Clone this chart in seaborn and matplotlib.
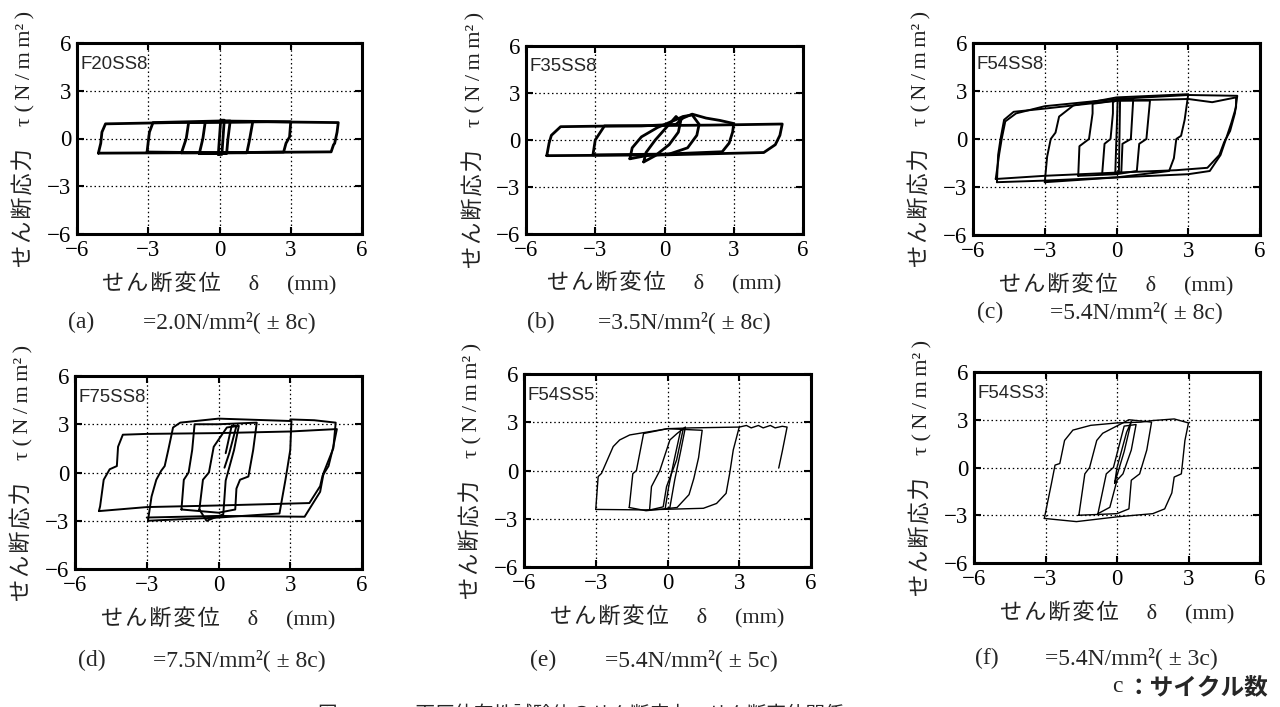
import pandas as pd
import matplotlib
matplotlib.use("Agg")
import matplotlib.pyplot as plt
import seaborn as sns

# specimen names and caption values
names = ["F20SS8", "F35SS8", "F54SS8", "F75SS8", "F54SS5", "F54SS3"]
letters = ["(a)", "(b)", "(c)", "(d)", "(e)", "(f)"]
pressure = ["2.0", "3.5", "5.4", "7.5", "5.4", "5.4"]
cycles = [8, 8, 8, 8, 5, 3]
ticks = [-6, -3, 0, 3, 6]

# hysteresis loops (displacement mm, stress N/mm2)
a_x = [[-5.1, -2.0, 2.0, 4.7, 4.8, 4.85, 4.95, 5.0, 2.0, -2.0, -4.8, -4.95, -5.0, -5.1],
       [-3.05, 0.0, 2.7, 2.8, 2.95, 3.0, 0.0, -2.8, -2.95, -3.0, -3.05],
       [-1.6, 1.15, 1.25, 1.4, -1.3, -1.4, -1.6],
       [-0.85, 0.3, 0.35, 0.45, -0.6, -0.7, -0.85],
       [-0.05, 0.1, 0.2, 0.05, -0.05]]
a_y = [[-0.92, -0.9, -0.87, -0.84, -0.4, -0.3, 0.4, 1.0, 1.05, 1.0, 0.92, 0.4, -0.3, -0.92],
       [-0.85, -0.9, -0.85, -0.3, 0.1, 1.05, 1.1, 1.0, 0.4, -0.2, -0.85],
       [-0.9, -0.9, -0.2, 1.05, 1.0, 0.0, -0.9],
       [-0.95, -0.95, -0.1, 1.1, 1.05, 0.0, -0.95],
       [-1.0, -1.0, 1.15, 1.15, -1.0]]

b_x = [[-5.1, 0.0, 4.3, 4.8, 5.0, 5.1, 2.0, -2.0, -4.5, -4.9, -5.0, -5.1],
       [-3.1, 0.0, 2.5, 2.8, 2.95, 3.0, 2.4, 1.8, 1.2, 0.8, 0.5, -1.0, -2.6, -3.0, -3.1],
       [-1.5, -0.8, 0.2, 1.0, 1.4, 1.5, 1.2, 0.8, 0.5, -0.3, -1.0, -1.4, -1.5],
       [-0.9, -0.4, 0.2, 0.6, 0.7, 0.5, 0.2, -0.4, -0.8, -0.9]]
b_y = [[-1.0, -0.95, -0.8, -0.3, 0.3, 1.02, 0.95, 0.9, 0.85, 0.3, -0.2, -1.0],
       [-0.95, -0.9, -0.75, -0.2, 0.5, 1.05, 1.25, 1.4, 1.65, 1.4, 1.0, 0.9, 0.9, 0.0, -0.95],
       [-1.2, -1.0, -0.9, -0.5, 0.3, 1.0, 1.6, 1.5, 1.3, 0.8, 0.2, -0.5, -1.2],
       [-1.4, -1.0, -0.3, 0.5, 1.2, 1.5, 1.0, 0.0, -0.8, -1.4]]

c_x = [[-5.05, -3.0, 0.0, 2.5, 3.8, 4.3, 4.5, 4.75, 4.95, 5.05, 3.0, 0.0, -3.0, -4.2, -4.65, -4.8, -4.9, -5.05],
       [-5.0, -3.0, 0.0, 3.0, 3.9, 4.35, 4.6, 4.8, 5.0, 5.0, 4.0, 3.0, 0.0, -3.0, -4.3, -4.7, -4.85, -4.95, -5.0],
       [-3.0, 0.0, 2.2, 2.4, 2.5, 2.7, 2.85, 3.0, 0.0, -1.8, -2.4, -2.55, -2.75, -2.9, -3.0],
       [-1.6, 0.0, 0.85, 0.95, 1.25, 1.4, 0.0, -1.0, -1.0, -1.15, -1.55, -1.6],
       [-0.6, 0.2, 0.25, 0.6, 0.7, 0.1, -0.15, -0.15, -0.25, -0.5, -0.6],
       [-0.05, 0.1, 0.15, 0.05, -0.05]]
c_y = [[-2.5, -2.3, -2.1, -1.95, -1.8, -1.0, -0.2, 0.5, 1.6, 2.7, 2.75, 2.5, 2.05, 1.6, 1.1, 0.0, -0.9, -2.5],
       [-2.7, -2.6, -2.4, -2.2, -2.0, -1.0, 0.1, 1.0, 2.0, 2.6, 2.3, 2.5, 2.4, 1.9, 1.7, 1.2, 0.0, -1.0, -2.7],
       [-2.7, -2.4, -2.0, -1.2, 0.0, 0.2, 1.2, 2.8, 2.6, 2.1, 1.4, 0.4, 0.0, -1.1, -2.7],
       [-2.3, -2.2, -2.0, -0.3, 0.0, 2.4, 2.4, 2.2, 1.6, 0.0, -0.45, -2.3],
       [-2.2, -2.1, -0.3, 0.0, 2.5, 2.5, 2.3, 1.6, 0.0, -0.3, -2.2],
       [-2.1, -2.1, 2.5, 2.5, -2.1]]

d_x = [[-5.0, -3.0, 0.0, 3.8, 4.25, 4.35, 4.6, 4.8, 4.95, 3.0, 0.0, -3.0, -4.0, -4.2, -4.25, -4.55, -4.8, -4.95, -5.0],
       [-2.95, 0.0, 2.55, 2.65, 2.8, 2.85, 3.0, 3.05, 0.0, -1.6, -1.9, -2.1, -2.25, -2.4, -2.6, -2.8, -2.95],
       [-3.0, 0.0, 3.6, 4.25, 4.4, 4.8, 4.9, 4.0, 3.0],
       [-1.55, 0.0, 0.7, 0.75, 0.9, 1.25, 1.45, 1.6, 0.0, -1.0, -1.1, -1.25, -1.45, -1.55],
       [-0.8, -0.5, 0.2, 0.3, 0.65, 0.85, 0.35, -0.2, -0.4, -0.65, -0.8],
       [0.25, 0.45, 0.75, 0.55, 0.3]]
d_y = [[-2.4, -2.15, -2.05, -1.9, -0.85, -0.2, 0.4, 1.6, 2.7, 2.55, 2.45, 2.4, 2.35, 1.6, 0.4, 0.2, -0.45, -2.1, -2.4],
       [-3.0, -2.8, -2.55, -1.7, -0.45, 0.0, 1.4, 3.2, 3.35, 3.1, 2.8, 1.4, 0.4, 0.1, -0.45, -1.5, -3.0],
       [-2.8, -2.7, -2.75, -1.2, 0.0, 1.5, 3.1, 3.25, 3.3],
       [-2.3, -2.5, -2.3, -1.0, -0.45, -0.25, 1.4, 3.1, 3.0, 3.0, 1.4, 0.0, -0.45, -2.3],
       [-2.3, -3.0, -2.6, -0.5, 1.4, 2.9, 2.8, 1.6, 0.0, -0.45, -2.3],
       [0.3, 1.2, 2.9, 2.9, 1.2]]

e_x = [[-3.0, -1.0, 1.5, 2.05, 2.45, 2.6, 2.75, 2.95, 3.0, 3.3, 3.5, 3.8, 4.0, 4.3, 4.5, 4.8, 5.0, 4.8, 4.65],
       [3.0, 1.0, 0.0, -1.58, -2.0, -2.27, -2.76, -2.9, -3.0],
       [-1.6, -0.9, 0.4, 0.9, 1.1, 1.3, 1.45, 0.0, -1.0, -1.3, -1.45, -1.6],
       [-0.75, -0.67, -0.32, 0.1, 0.4, 0.66, 0.38, -0.04, -0.18, -0.75],
       [-0.1, 0.05, 0.3, 0.55, 0.75, 0.55, 0.3, 0.1, -0.1]]
e_y = [[-2.42, -2.45, -2.35, -2.05, -1.42, -0.18, 1.28, 2.42, 2.7, 2.8, 2.65, 2.8, 2.65, 2.8, 2.65, 2.75, 2.7, 1.2, 0.15],
       [2.7, 2.65, 2.6, 2.21, 1.9, 1.49, -0.18, -0.38, -2.42],
       [-2.3, -2.5, -2.3, -1.5, -0.5, 0.8, 2.5, 2.6, 2.3, 0.0, -0.2, -2.3],
       [-2.46, -1.0, 0.0, 1.9, 2.3, 2.6, 0.65, -1.0, -2.26, -2.46],
       [-2.4, -1.0, 0.8, 2.5, 2.7, 1.2, -0.6, -2.3, -2.4]]

f_x = [[-3.05, -1.7, 0.0, 1.5, 2.0, 2.3, 2.4, 2.7, 2.85, 3.0, 2.4, 1.5, 1.0, 0.0, -1.1, -1.85, -2.2, -2.4, -2.6, -2.75, -2.9, -3.05],
       [-1.6, 0.0, 0.5, 0.6, 0.95, 1.25, 1.45, 0.5, -0.6, -0.85, -1.15, -1.35, -1.6],
       [-0.8, -0.3, 0.0, 0.25, 0.6, 0.8, 0.3, -0.15, -0.45, -0.8],
       [-0.1, 0.3, 0.6, 0.4, 0.0, -0.1]]
f_y = [[-3.2, -3.4, -3.1, -2.9, -2.6, -1.6, -0.6, -0.4, 1.7, 2.8, 3.05, 2.95, 2.85, 2.8, 2.65, 2.35, 1.7, 0.25, 0.15, -1.0, -2.1, -3.2],
       [-3.0, -2.9, -2.6, -0.8, -0.4, 1.1, 2.85, 3.0, 2.15, 1.7, 0.0, -0.4, -3.0],
       [-2.9, -2.5, -0.8, -0.4, 1.1, 2.7, 2.6, 0.0, -0.4, -2.9],
       [-1.0, 1.0, 2.9, 2.2, 0.0, -1.0]]

panel_x = [a_x, b_x, c_x, d_x, e_x, f_x]
panel_y = [a_y, b_y, c_y, d_y, e_y, f_y]

sns.set_theme(style="ticks")
plt.rcParams["font.family"] = ["Liberation Serif", "Noto Sans CJK JP", "DejaVu Sans"]
plt.rcParams["axes.unicode_minus"] = True

W, H = 1280, 707
fig = plt.figure(figsize=(12.8, 7.07), dpi=100)
fig.patch.set_facecolor("white")

# axes boxes in pixels (left, top, right, bottom)
boxes = [(77, 43, 362, 234), (526, 46, 803, 234), (973, 43, 1260, 235),
         (75, 376, 362, 569), (524, 374, 811, 567), (974, 372, 1260, 563)]
line_w = [2.0, 2.0, 1.4, 1.4, 1.0, 1.0]
# caption positions in pixels: letter x, value x, y
cap_pos = [(68, 143, 322), (527, 598, 322), (977, 1050, 312),
           (78, 153, 660), (530, 605, 660), (975, 1045, 658)]

hs = "\u200a"
ts = "\u2009"
xlab = hs.join("せん断変位") + "　 δ 　(mm)"
ylab = hs.join("せん断応力") + "　τ " + "(" + ts + "N" + ts + "/" + ts + "m" + ts + "m²" + ts + ")"

for i in range(6):
    l, t, r, b = boxes[i]
    ax = fig.add_axes([l / W, 1 - b / H, (r - l) / W, (b - t) / H])
    ax.set_facecolor("white")
    parts = []
    for k, (xs, ys) in enumerate(zip(panel_x[i], panel_y[i])):
        parts.append(pd.DataFrame({"x": xs, "y": ys, "loop": k}))
    df = pd.concat(parts, ignore_index=True)
    sns.lineplot(data=df, x="x", y="y", units="loop", estimator=None, sort=False,
                 color="black", linewidth=line_w[i], ax=ax, legend=False)

    ax.set_xlim(-6, 6)
    ax.set_ylim(-6, 6)
    ax.set_xticks(ticks)
    ax.set_yticks(ticks)
    ax.grid(True, color="black", linestyle=(0, (1.2, 2.2)), linewidth=0.9)
    ax.tick_params(direction="in", length=5, width=1.5, top=True, right=True,
                   labelsize=16.5, pad=4, colors="black")
    for s in ax.spines.values():
        s.set_linewidth(2.2)
        s.set_color("black")
    ax.set_xlabel(xlab, fontsize=16, color="#222222")
    ax.xaxis.set_label_coords(0.5, -0.2)
    ax.set_ylabel(ylab, fontsize=16, color="#222222")
    ax.yaxis.set_label_coords(-0.145, 0.5)
    ax.text(0.012, 0.89, names[i], transform=ax.transAxes, fontsize=13.4,
            family="Liberation Sans", va="center", ha="left")

    lx, vx, cy = cap_pos[i]
    fig.text(lx / W, 1 - cy / H, letters[i], fontsize=17, va="center", ha="left")
    fig.text(vx / W, 1 - cy / H, "=" + pressure[i] + "N/mm²( ± " + str(cycles[i]) + "c)",
             fontsize=17, va="center", ha="left")

fig.text(1112 / W, 1 - 687 / H, "c", fontsize=17, ha="left", va="center")
fig.text(1268 / W, 1 - 687 / H, "：サイクル数", fontsize=17, ha="right", va="center",
         fontweight="bold", family=["Noto Sans CJK JP", "DejaVu Sans"])
fig.text(318 / W, 1 - 704 / H, "図　　　　面圧依存性試験体のせん断応力－せん断変位関係",
         fontsize=14, ha="left", va="top", family=["Noto Sans CJK JP", "DejaVu Sans"])

fig.savefig("out.png", dpi=100, facecolor="white")
